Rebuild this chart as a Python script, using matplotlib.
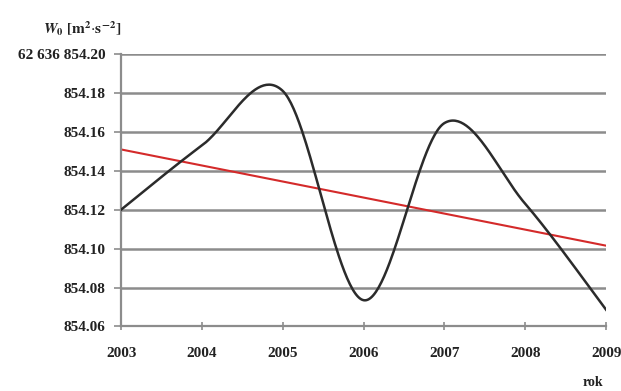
import numpy as np
import matplotlib
matplotlib.use("Agg")
import matplotlib.pyplot as plt
from matplotlib.ticker import FixedLocator, FuncFormatter

plt.rcParams["font.family"] = ["Liberation Serif", "DejaVu Serif"]
plt.rcParams["mathtext.fontset"] = "stix"

# W0 values (last digits, full value is 62 636 8xx.xx m2/s2)
years = [2003, 2004, 2005, 2006, 2007, 2008, 2009]
w0 = [854.120, 854.153, 854.181, 854.0735, 854.1645, 854.123, 854.0686]
y_ticks = [854.06, 854.08, 854.10, 854.12, 854.14, 854.16, 854.18, 854.20]
prefix = "62 636 "


def smooth_curve(x, y, n=60):
    # Bezier smoothing with Catmull-Rom control points (like spreadsheet "smoothed line")
    x = np.asarray(x, float)
    y = np.asarray(y, float)
    xs, ys = [], []
    for i in range(len(x) - 1):
        i0 = max(i - 1, 0)
        i3 = min(i + 2, len(x) - 1)
        p0 = np.array([x[i], y[i]])
        p3 = np.array([x[i + 1], y[i + 1]])
        p1 = p0 + (np.array([x[i + 1], y[i + 1]]) - np.array([x[i0], y[i0]])) / 6
        p2 = p3 - (np.array([x[i3], y[i3]]) - np.array([x[i], y[i]])) / 6
        t = np.linspace(0, 1, n)[:, None]
        pts = ((1 - t) ** 3) * p0 + 3 * ((1 - t) ** 2) * t * p1 + 3 * (1 - t) * t ** 2 * p2 + t ** 3 * p3
        xs.extend(pts[:, 0])
        ys.extend(pts[:, 1])
    return np.array(xs), np.array(ys)


fig = plt.figure(figsize=(6.21, 3.91), dpi=100)
ax = fig.add_axes([0.195, 0.165, 0.781, 0.697])

ax.set_xlim(years[0], years[-1])
ax.set_ylim(y_ticks[0], y_ticks[-1])

for yt in y_ticks[1:]:
    ax.axhline(yt, color="#8c8c8c", lw=1.8, zorder=1)

sx, sy = smooth_curve(years, w0)
ax.plot(sx, sy, color="#2b2b2b", lw=1.8, zorder=3)

# linear trend
coef = np.polyfit(years, w0, 1)
tx = np.array([years[0], years[-1]])
ax.plot(tx, np.polyval(coef, tx), color="#d42a2a", lw=1.5, zorder=2)

for side in ["top", "right"]:
    ax.spines[side].set_visible(False)
for side in ["left", "bottom"]:
    ax.spines[side].set_color("#8c8c8c")
    ax.spines[side].set_linewidth(1.6)

ax.yaxis.set_major_locator(FixedLocator(y_ticks))
ax.yaxis.set_major_formatter(FuncFormatter(
    lambda v, p: (prefix if abs(v - y_ticks[-1]) < 1e-6 else "") + f"{v:.2f}"))
ax.set_xticks(years)
ax.set_xticklabels([str(y) for y in years])

ax.tick_params(axis="y", direction="out", length=5, width=1.2, color="#8c8c8c",
               labelsize=11, pad=6, labelcolor="#222222")
ax.tick_params(axis="x", direction="inout", length=6, width=1.2, color="#8c8c8c",
               labelsize=11, pad=12, labelcolor="#222222")
for lbl in ax.get_xticklabels() + ax.get_yticklabels():
    lbl.set_fontweight("bold")

fig.text(0.195, 0.928, r"$\mathbfit{W}_{\mathbf{0}}\ \mathbf{[m^{2}}{\cdot}\mathbf{s^{-2}]}$",
         ha="right", va="center", fontsize=11, color="#222222")
fig.text(0.955, 0.004, "rok", ha="center", va="bottom", fontsize=10,
         fontweight="bold", color="#222222")

fig.savefig("out.png", dpi=100, facecolor="white")
